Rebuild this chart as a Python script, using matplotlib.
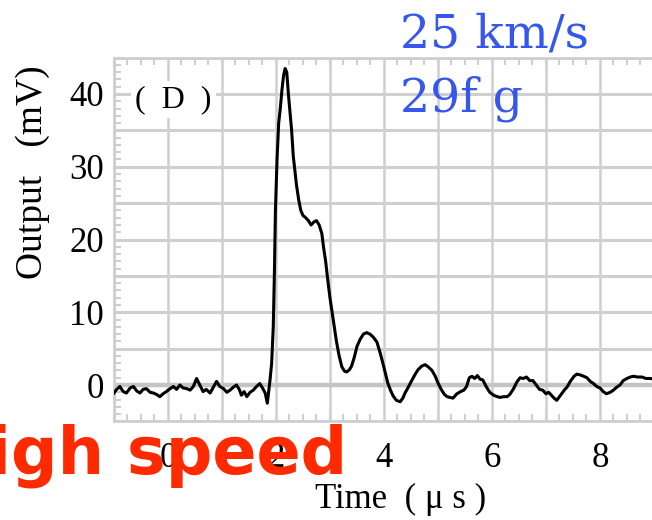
import matplotlib
matplotlib.use("Agg")
import matplotlib.pyplot as plt
from matplotlib.ticker import MultipleLocator

# sensor output trace, time in microseconds, output in mV
time_us = [
    -1.00, -0.95, -0.89, -0.83, -0.77, -0.70, -0.64, -0.58, -0.52, -0.46,
    -0.40, -0.33, -0.27, -0.21, -0.15, -0.09, -0.03, 0.04, 0.10, 0.16,
    0.22, 0.28, 0.35, 0.41, 0.47, 0.53, 0.59, 0.65, 0.71, 0.78,
    0.84, 0.90, 0.96, 1.03, 1.09, 1.15, 1.21, 1.27, 1.32, 1.36,
    1.41, 1.46, 1.52, 1.58, 1.64, 1.70, 1.75, 1.80, 1.84, 1.87,
    1.89, 1.92, 1.95, 1.97, 1.99, 2.02, 2.05, 2.08, 2.11, 2.14,
    2.17, 2.20, 2.23, 2.26, 2.29, 2.32, 2.35, 2.38, 2.42, 2.46,
    2.50, 2.55, 2.60, 2.65, 2.70, 2.75, 2.80, 2.85, 2.88, 2.92,
    2.96, 3.00, 3.04, 3.08, 3.12, 3.17, 3.22, 3.27, 3.31, 3.36,
    3.40, 3.45, 3.50, 3.56, 3.62, 3.68, 3.74, 3.80, 3.87, 3.93,
    3.98, 4.03, 4.07, 4.12, 4.17, 4.23, 4.30, 4.35, 4.39, 4.45,
    4.52, 4.58, 4.63, 4.70, 4.76, 4.82, 4.89, 4.95, 5.00, 5.06,
    5.12, 5.17, 5.22, 5.28, 5.35, 5.42, 5.48, 5.53, 5.58, 5.63,
    5.68, 5.73, 5.78, 5.83, 5.90, 5.96, 6.03, 6.10, 6.15, 6.22,
    6.28, 6.33, 6.40, 6.46, 6.52, 6.58, 6.64, 6.70, 6.76, 6.82,
    6.88, 6.94, 7.00, 7.05, 7.10, 7.15, 7.20, 7.25, 7.30, 7.35,
    7.39, 7.45, 7.52, 7.57, 7.63, 7.70, 7.76, 7.82, 7.88, 7.94,
    8.00, 8.06, 8.12, 8.19, 8.25, 8.31, 8.37, 8.43, 8.50, 8.56,
    8.62, 8.70, 8.78, 8.85, 8.93, 9.00,
]
output_mv = [
    -1.1, -0.6, -0.2, -0.9, -1.1, -0.4, -0.2, -0.8, -1.1, -0.6,
    -0.5, -1.0, -1.1, -1.3, -1.6, -1.2, -0.9, -0.5, -0.2, -0.6,
    0.0, -0.4, -0.5, -0.7, -0.2, 0.9, 0.0, -0.9, -0.6, -1.1,
    -0.3, 0.5, -0.2, -0.5, -1.0, -0.7, -0.3, 0.0, -0.6, -1.4,
    -0.9, -1.6, -1.0, -0.7, -0.2, 0.2, -0.4, -1.1, -2.5, -0.5,
    0.7, 3.0, 8.0, 15.0, 24.0, 31.0, 36.0, 38.0, 40.5, 42.5,
    43.5, 43.0, 40.0, 37.5, 35.0, 31.5, 29.5, 27.5, 25.5, 24.0,
    23.3, 23.0, 22.6, 22.0, 22.4, 22.6, 22.0, 20.8, 19.0, 17.0,
    14.4, 12.0, 10.0, 8.0, 6.0, 4.0, 2.5, 1.9, 1.8, 2.1,
    2.6, 3.8, 5.3, 6.3, 7.0, 7.2, 7.0, 6.6, 5.9, 4.4,
    3.0, 1.5, 0.3, -0.7, -1.5, -2.1, -2.3, -1.8, -1.1, -0.3,
    0.7, 1.5, 2.1, 2.6, 2.8, 2.5, 2.0, 1.2, 0.3, -0.6,
    -1.3, -1.6, -1.7, -1.8, -1.2, -0.9, -0.7, -0.2, 1.0, 1.2,
    0.9, 1.3, 0.8, 0.7, -0.3, -1.0, -1.4, -1.6, -1.7, -1.6,
    -1.6, -1.3, -0.5, 0.4, 1.0, 0.9, 1.1, 0.6, 0.6, 0.0,
    -0.6, -0.7, -1.2, -1.0, -1.4, -1.8, -2.1, -1.6, -1.1, -0.6,
    -0.3, 0.5, 1.2, 1.5, 1.4, 1.2, 1.0, 0.5, 0.2, -0.2,
    -0.4, -0.9, -1.2, -1.0, -0.7, -0.3, 0.0, 0.6, 0.9, 1.1,
    1.2, 1.1, 1.1, 0.9, 0.9, 0.8,
]

x_ticks = [0, 2, 4, 6, 8]
y_ticks = [0, 10, 20, 30, 40]

grid_color = "#cfcfcf"
serif = ["Liberation Serif", "DejaVu Serif"]

fig = plt.figure(figsize=(6.52, 5.2), dpi=100)
ax = fig.add_axes([0.1748, 0.1896, 0.8282, 0.6996])

# grid: every 1 us horizontally, every 5 mV vertically
for gx in range(-1, 10):
    ax.axvline(gx, color=grid_color, lw=1.8, zorder=1)
for gy in range(-5, 46, 5):
    ax.axhline(gy, color=grid_color, lw=2.2, zorder=1)
ax.axhline(0, color="#c4c4c4", lw=3.2, zorder=1)

ax.plot(time_us, output_mv, color="black", lw=2.2, zorder=3)

ax.set_xlim(-1, 9)
ax.set_ylim(-5, 45)
ax.set_xticks(x_ticks)
ax.set_yticks(y_ticks)
ax.xaxis.set_minor_locator(MultipleLocator(0.25))
ax.yaxis.set_minor_locator(MultipleLocator(1))
ax.tick_params(which="major", length=0, labelsize=25, colors="black")
ax.tick_params(axis="x", which="major", pad=15)
ax.tick_params(axis="y", which="major", pad=7)
ax.tick_params(which="minor", direction="in", length=5, width=1.5,
               color=grid_color, top=True, bottom=True, left=True)
for lab in ax.get_xticklabels() + ax.get_yticklabels():
    lab.set_family(serif)

for side in ("left", "top", "bottom"):
    ax.spines[side].set_color(grid_color)
    ax.spines[side].set_linewidth(2)
ax.spines["right"].set_visible(False)

ax.set_xlabel("Time  ( μ s )", family=serif, fontsize=25)
ax.xaxis.set_label_coords(0.53, -0.169)
ax.set_ylabel("Output   (mV)", family=serif, fontsize=27)
ax.yaxis.set_label_coords(-0.118, 0.686)

ax.text(0.1, 39.2, "(  D  )", family=serif, fontsize=23, ha="center", va="center",
        zorder=4, bbox=dict(facecolor="white", edgecolor="none", pad=3))

fig.text(400 / 652, 1 - 48 / 520, "25 km/s", family="DejaVu Serif",
         fontsize=34, color="#3557ee", ha="left", va="baseline")
fig.text(400 / 652, 1 - 111 / 520, "29f g", family="DejaVu Serif",
         fontsize=34, color="#3557ee", ha="left", va="baseline")

fig.text(347 / 652, 1 - 473 / 520, "High speed", family="DejaVu Sans",
         fontweight="bold", fontsize=47, color="#ff2a00",
         ha="right", va="baseline", zorder=10)

fig.savefig("out.png", dpi=100)
